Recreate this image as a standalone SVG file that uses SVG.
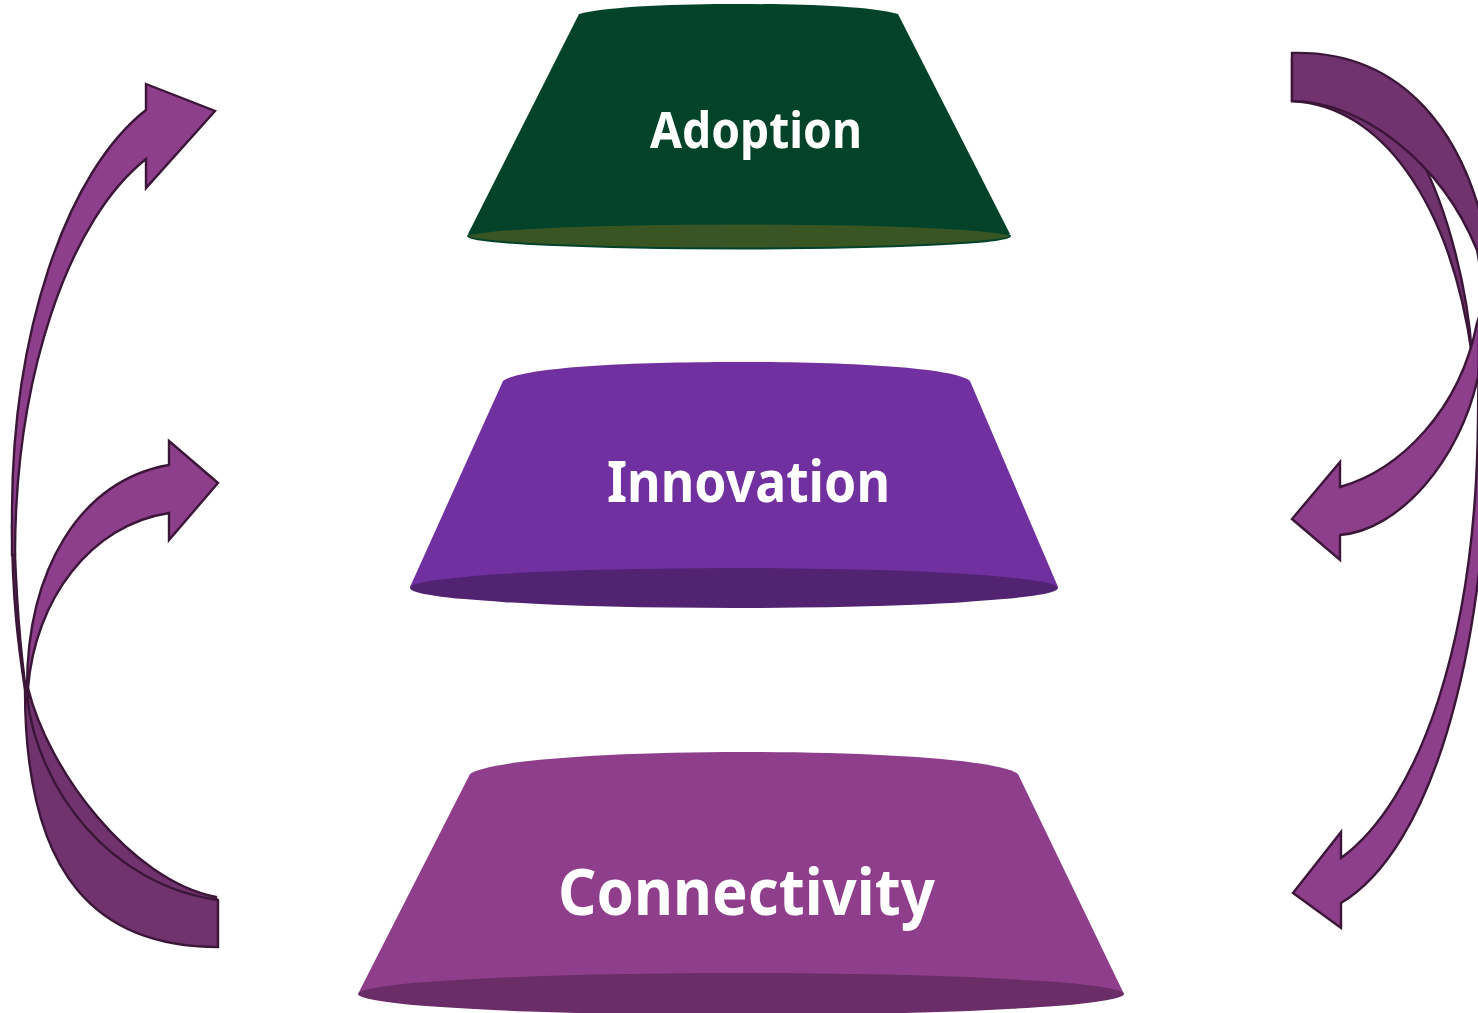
<svg xmlns="http://www.w3.org/2000/svg" width="1478" height="1013" viewBox="0 0 1478 1013">
<style>
.lbl{font-family:"Noto Sans","Open Sans","Liberation Sans",sans-serif;font-weight:bold;fill:#ffffff;text-anchor:middle}
.al{fill:#8e3f8b;stroke:#3b1639;stroke-width:2.4;stroke-linejoin:miter}
.ad{fill:#71336e;stroke:#3b1639;stroke-width:2.4;stroke-linejoin:miter}
</style>
<rect width="1478" height="1013" fill="#ffffff"/>
<g id="node-adoption">
<path d="M579,14 C610,6 680,4 738,4 C800,4 868,6 898,14 L1010,234 L468,234 Z" fill="#03432a"/>
<ellipse cx="739" cy="236" rx="271" ry="12.5" fill="#3a5524" stroke="#03432a" stroke-width="2"/>
<text class="lbl" x="756" y="148" font-size="50" textLength="212" lengthAdjust="spacingAndGlyphs">Adoption</text>
</g>
<g id="node-innovation">
<path d="M503,381 C520,368 620,362 736,362 C852,362 955,368 970,381 L1058,587 L410,587 Z" fill="#7030a0"/>
<ellipse cx="734" cy="588" rx="324" ry="20" fill="#512371"/>
<text class="lbl" x="748.5" y="502" font-size="57" textLength="283" lengthAdjust="spacingAndGlyphs">Innovation</text>
</g>
<g id="node-connectivity">
<path d="M470,774 C490,760 610,752 744,752 C878,752 1000,760 1018,774 L1124,994 L358,994 Z" fill="#8e3e8b"/>
<ellipse cx="741" cy="994" rx="383" ry="21" fill="#6a2d67"/>
<text class="lbl" x="746.5" y="915" font-size="65" textLength="377" lengthAdjust="spacingAndGlyphs">Connectivity</text>
</g>
<g id="connectors">
<path class="ad" d="M216,897 C130,880 48,770 28,688 C26,870 100,944 216,944 Z"/>
<path class="al" d="M169,441 L218,483 L169,540 L169,513 C90,525 35,600 28,688 L27,688 C27,570 80,480 169,465 Z"/>
<path class="ad" d="M12,525 C12,600 19,650 25,690 C25,880 100,947 218,947 L218,900 C110,885 38,790 27,697 C20,650 16,600 14,525 Z"/>
<path class="al" d="M146,84 L215,111 L146,188 L146,159 A203,424 0 0 0 15,555 L12,555 L12,515 A206,432 0 0 1 146,110 Z"/>
<path class="ad" d="M1292,101 C1380,105 1450,200 1472,355 C1468,290 1448,210 1420,157 C1390,110 1340,70 1292,60 Z"/>
<path class="al" d="M1340,462 L1292,519 L1340,560 L1340,535 C1400,530 1460,460 1478,377 L1490,300 L1488,290 L1477,323 C1460,410 1400,470 1340,487 Z"/>
<path class="ad" d="M1292,53 C1400,50 1470,130 1490,260 C1500,320 1496,380 1489,420 L1479,420 C1485,360 1485,290 1477,250 C1440,160 1360,101 1292,101 Z"/>
<path class="al" d="M1341,832 L1293,893 L1341,928 L1341,903 C1430,850 1486,660 1488,420 L1489,330 L1479,330 L1478,420 C1476,640 1420,800 1341,858 Z"/>
</g>
</svg>
